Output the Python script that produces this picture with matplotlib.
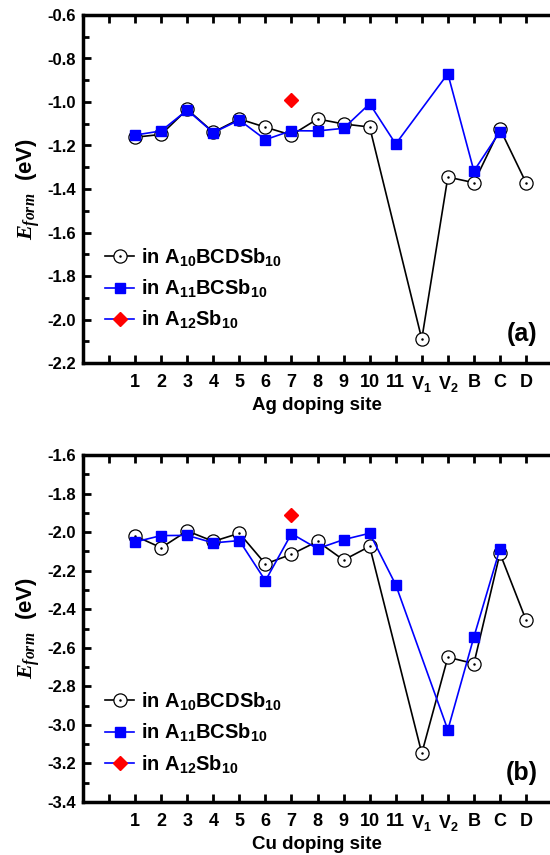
"""
Formation energy of Ag / Cu doping at each site, two stacked panels.
Saves to out.png.
"""

import numpy as np
import matplotlib
matplotlib.use("Agg")
import matplotlib.pyplot as plt
from matplotlib.lines import Line2D
from matplotlib.ticker import MultipleLocator, FormatStrFormatter

plt.rcParams["font.family"] = "Liberation Sans"
plt.rcParams["font.weight"] = "bold"
plt.rcParams["mathtext.fontset"] = "custom"
plt.rcParams["mathtext.rm"] = "Liberation Sans:bold"
plt.rcParams["mathtext.bf"] = "Liberation Sans:bold"
plt.rcParams["mathtext.it"] = "Liberation Serif:italic"
plt.rcParams["mathtext.default"] = "rm"

sites = ["1", "2", "3", "4", "5", "6", "7", "8", "9", "10", "11",
         "V$_1$", "V$_2$", "B", "C", "D"]
nan = np.nan

# panel (a): Ag
ag_a10 = [-1.162, -1.149, -1.034, -1.139, -1.078, -1.116, -1.152, -1.078,
          -1.101, -1.115, nan, -2.090, -1.345, -1.371, -1.123, -1.371]
ag_a11 = [-1.152, -1.133, -1.037, -1.141, -1.083, -1.173, -1.132, -1.133,
          -1.121, -1.008, -1.193, nan, -0.870, -1.317, -1.136, nan]
ag_a12_site, ag_a12 = 7, -0.991

# panel (b): Cu
cu_a10 = [-2.020, -2.081, -1.994, -2.048, -2.006, -2.165, -2.115, -2.048,
          -2.145, -2.074, nan, -3.147, -2.649, -2.682, -2.110, -2.456]
cu_a11 = [-2.051, -2.018, -2.017, -2.056, -2.044, -2.252, -2.008, -2.086,
          -2.039, -2.006, -2.273, nan, -3.026, -2.544, -2.086, nan]
cu_a12_site, cu_a12 = 7, -1.913

labels = ["in A$_{10}$BCDSb$_{10}$", "in A$_{11}$BCSb$_{10}$", "in A$_{12}$Sb$_{10}$"]


def draw(ax, y10, y11, x12, y12, ylim, xlabel, tag, leg_y):
    x = np.arange(1, len(sites) + 1)
    y10 = np.array(y10)
    y11 = np.array(y11)
    m10 = ~np.isnan(y10)
    m11 = ~np.isnan(y11)
    h_c, = ax.plot(x[m10], y10[m10], "-o", color="black", lw=1.2, ms=9.5,
                   mfc="white", mec="black", mew=0.9, zorder=2)
    h_d, = ax.plot(x[m10], y10[m10], "o", color="black", ms=0.8, zorder=2.1)
    h_s, = ax.plot(x[m11], y11[m11], "-s", color="#0000ff", lw=1.2, ms=7,
                   mfc="#0000ff", mec="#0000ff", zorder=3)
    ax.plot([x12], [y12], "D", color="red", ms=7, zorder=4)
    h_r = Line2D([], [], color="#0000ff", lw=1.2, marker="D", ms=7,
                 mfc="red", mec="red")

    ax.set_xlim(-1, 16.92)
    ax.set_ylim(*ylim)
    ax.set_xticks(np.arange(0, len(sites) + 1))
    ax.set_xticklabels([""] + sites)
    ax.yaxis.set_major_locator(MultipleLocator(0.2))
    ax.yaxis.set_minor_locator(MultipleLocator(0.1))
    ax.yaxis.set_major_formatter(FormatStrFormatter("%.1f"))
    ax.tick_params(axis="both", which="major", direction="in", length=6,
                   width=2, pad=5)
    ax.tick_params(axis="y", which="major", labelsize=12)
    ax.tick_params(axis="x", which="major", labelsize=13, pad=8, top=True)
    ax.tick_params(axis="y", which="minor", direction="in", length=4, width=2)
    for s in ["left", "bottom", "top"]:
        ax.spines[s].set_linewidth(2.5)
    ax.spines["right"].set_visible(False)

    ax.set_xlabel(xlabel, fontsize=13.5, fontweight="bold", labelpad=2)
    ax.set_ylabel(r"$\mathit{E_{form}}$  (eV)", fontsize=16, fontweight="bold",
                  labelpad=4)
    ax.text(0.973, 0.05, tag, transform=ax.transAxes, ha="right", va="bottom",
            fontsize=18, fontweight="bold")
    ax.legend([(h_c, h_d), h_s, h_r], labels, loc="lower left",
              bbox_to_anchor=(0.03, leg_y), frameon=False, fontsize=14.5,
              handlelength=1.45, handletextpad=0.35, labelspacing=0.45,
              borderaxespad=0)


fig = plt.figure(figsize=(5.5, 8.55), dpi=100)
ax1 = fig.add_axes([83 / 550, 1 - 363 / 855, 1 - 83 / 550, 348 / 855])
ax2 = fig.add_axes([83 / 550, 1 - 802 / 855, 1 - 83 / 550, 347 / 855])

draw(ax1, ag_a10, ag_a11, ag_a12_site, ag_a12, (-2.2, -0.6), "Ag doping site", "(a)", 0.068)
draw(ax2, cu_a10, cu_a11, cu_a12_site, cu_a12, (-3.4, -1.6), "Cu doping site", "(b)", 0.053)

fig.savefig("out.png", dpi=100)
